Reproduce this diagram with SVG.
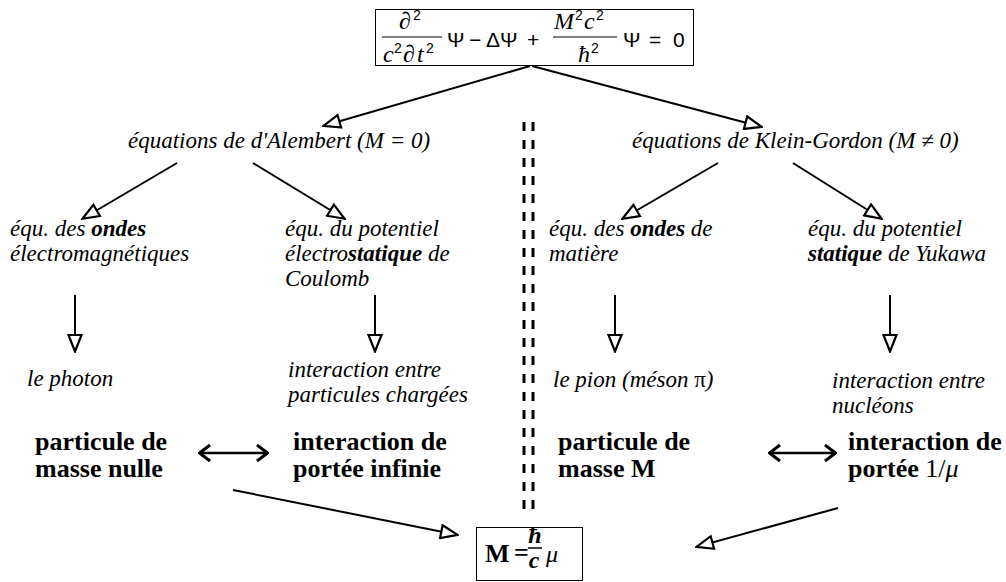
<svg xmlns="http://www.w3.org/2000/svg" width="1006" height="582" viewBox="0 0 1006 582">
<style>
.it{font-family:"Liberation Serif",serif;font-style:italic;font-size:23px;fill:#000}
.bd{font-family:"Liberation Serif",serif;font-weight:bold;font-size:26px;fill:#000}
.b{font-weight:bold}
.ln{stroke:#000;stroke-width:2;fill:none}
.sans{font-family:"Liberation Sans",sans-serif;font-size:21px;fill:#000}
.sup{font-family:"Liberation Sans",sans-serif;font-size:14px;fill:#000}
.m{font-family:"Liberation Serif",serif;font-style:italic;font-size:24px;fill:#000}
</style>
<defs>
<marker id="tri" viewBox="0 0 20 16" markerWidth="20" markerHeight="16" refX="19" refY="8" orient="auto" markerUnits="userSpaceOnUse">
<path d="M2,1.5 L18.5,8 L2,14.5 Z" fill="#fff" stroke="#000" stroke-width="2.2"/>
</marker>
<marker id="chev" viewBox="0 0 14 20" markerWidth="14" markerHeight="20" refX="13" refY="10" orient="auto-start-reverse" markerUnits="userSpaceOnUse">
<path d="M2,2 L12.5,10 L2,18" fill="none" stroke="#000" stroke-width="3"/>
</marker>
</defs>
<rect width="1006" height="582" fill="#fff"/>

<g id="connectors">
<line class="ln" x1="530" y1="66" x2="323" y2="126" marker-end="url(#tri)"/>
<line class="ln" x1="532" y1="66" x2="762" y2="127" marker-end="url(#tri)"/>
<line class="ln" x1="177" y1="163" x2="82" y2="219" marker-end="url(#tri)"/>
<line class="ln" x1="253" y1="163" x2="345" y2="219" marker-end="url(#tri)"/>
<line class="ln" x1="718" y1="163" x2="622" y2="219" marker-end="url(#tri)"/>
<line class="ln" x1="793" y1="163" x2="882" y2="219" marker-end="url(#tri)"/>
<line class="ln" x1="75" y1="295" x2="75" y2="352" marker-end="url(#tri)"/>
<line class="ln" x1="375" y1="295" x2="375" y2="352" marker-end="url(#tri)"/>
<line class="ln" x1="615" y1="295" x2="615" y2="352" marker-end="url(#tri)"/>
<line class="ln" x1="890" y1="295" x2="890" y2="352" marker-end="url(#tri)"/>
<line x1="199" y1="453" x2="268" y2="453" stroke="#000" stroke-width="2.5" marker-start="url(#chev)" marker-end="url(#chev)"/>
<line x1="769" y1="453" x2="836" y2="453" stroke="#000" stroke-width="2.5" marker-start="url(#chev)" marker-end="url(#chev)"/>
<line class="ln" x1="233" y1="490" x2="458" y2="535" marker-end="url(#tri)"/>
<line class="ln" x1="838" y1="508" x2="696" y2="547" marker-end="url(#tri)"/>
<line x1="524" y1="122" x2="524" y2="512" stroke="#000" stroke-width="3" stroke-dasharray="9 9"/>
<line x1="533" y1="122" x2="533" y2="512" stroke="#000" stroke-width="3" stroke-dasharray="9 9"/>
</g>

<g id="equation">
<rect x="375.5" y="9.5" width="318" height="56" fill="#fff" stroke="#000" stroke-width="1"/>
<text class="m" x="399" y="29">∂</text>
<text class="sup" x="413" y="20">2</text>
<line x1="382" y1="37" x2="442" y2="37" stroke="#000" stroke-width="1"/>
<text class="m" x="383" y="62">c</text>
<text class="sup" x="394" y="53">2</text>
<text class="m" x="403" y="62">∂</text>
<text class="m" x="417" y="62">t</text>
<text class="sup" x="426" y="53">2</text>
<text class="sans" x="447" y="47">Ψ</text>
<text class="sans" x="469" y="47">−</text>
<text class="sans" x="486" y="47">Δ</text>
<text class="sans" x="500" y="47">Ψ</text>
<text class="sans" x="527" y="47">+</text>
<text class="m" x="554" y="29">M</text>
<text class="sup" x="575" y="20">2</text>
<text class="m" x="584" y="29">c</text>
<text class="sup" x="596" y="20">2</text>
<line x1="553" y1="37" x2="617" y2="37" stroke="#000" stroke-width="1"/>
<text class="m" x="578" y="62">ħ</text>
<text class="sup" x="591" y="53">2</text>
<text class="sans" x="623" y="47">Ψ</text>
<text class="sans" x="649" y="47">=</text>
<text class="sans" x="673" y="47">0</text>
</g>

<g id="dalembert"><text class="it" x="128" y="148">équations de d'Alembert (M = 0)</text></g>
<g id="kleingordon"><text class="it" x="632" y="148">équations de Klein-Gordon (M ≠ 0)</text></g>

<g id="ondes-em">
<text class="it" x="10" y="236">équ. des <tspan class="b">ondes</tspan></text>
<text class="it" x="10" y="261">électromagnétiques</text>
</g>
<g id="coulomb">
<text class="it" x="285" y="236">équ. du potentiel</text>
<text class="it" x="285" y="261">électro<tspan class="b">statique</tspan> de</text>
<text class="it" x="285" y="286">Coulomb</text>
</g>
<g id="ondes-matiere">
<text class="it" x="549" y="236">équ. des <tspan class="b">ondes</tspan> de</text>
<text class="it" x="549" y="261">matière</text>
</g>
<g id="yukawa">
<text class="it" x="808" y="236">équ. du potentiel</text>
<text class="it" x="808" y="261"><tspan class="b">statique</tspan> de Yukawa</text>
</g>

<g id="photon"><text class="it" x="27" y="386">le photon</text></g>
<g id="charges">
<text class="it" x="288" y="377">interaction entre</text>
<text class="it" x="288" y="402">particules chargées</text>
</g>
<g id="pion"><text class="it" x="553" y="387">le pion (méson <tspan font-style="normal">π</tspan>)</text></g>
<g id="nucleons">
<text class="it" x="832" y="388">interaction entre</text>
<text class="it" x="832" y="413">nucléons</text>
</g>

<g id="masse-nulle">
<text class="bd" x="35" y="450">particule de</text>
<text class="bd" x="35" y="477">masse nulle</text>
</g>
<g id="portee-infinie">
<text class="bd" x="293" y="450">interaction de</text>
<text class="bd" x="293" y="477">portée infinie</text>
</g>
<g id="masse-M">
<text class="bd" x="558" y="450">particule de</text>
<text class="bd" x="558" y="477">masse M</text>
</g>
<g id="portee-mu">
<text class="bd" x="848" y="450">interaction de</text>
<text class="bd" x="848" y="477">portée <tspan font-weight="normal">1/<tspan font-style="italic">μ</tspan></tspan></text>
</g>

<g id="relation">
<rect x="476.5" y="527.5" width="106" height="53" fill="#fff" stroke="#000" stroke-width="1"/>
<text class="bd" x="485" y="562" font-size="22">M</text>
<text class="bd" x="514" y="561" font-size="20">=</text>
<text class="m" font-weight="bold" font-size="18" text-anchor="middle" x="535" y="543">ħ</text>
<line x1="528" y1="548" x2="542" y2="548" stroke="#000" stroke-width="1.5"/>
<text class="m" font-weight="bold" font-size="18" text-anchor="middle" x="534" y="568">c</text>
<text class="m" font-size="22" x="546" y="562">μ</text>
</g>
</svg>
